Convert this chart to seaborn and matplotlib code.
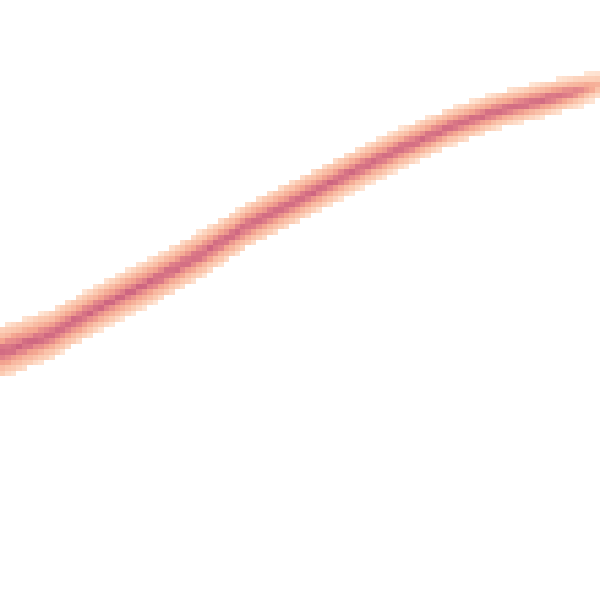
import numpy as np
import pandas as pd
import matplotlib
matplotlib.use("Agg")
import matplotlib.pyplot as plt
import seaborn as sns

# centre of the band (pixel coords, y from top)
curve_x = [0, 50, 100, 150, 200, 250, 300, 350, 400, 450, 500, 550, 575, 600]
curve_y = [353, 335, 307, 282, 255, 224, 199, 173, 149, 127, 110, 98, 92, 85]
# half thickness of the band and relative density along it
curve_half = [24, 22, 21, 21, 21, 20, 20, 19, 18, 17, 16, 15, 14, 11]
curve_density = [1, 1, 1, 1, 1, 1, 1, 1, 1, 1, 1, 1, 0.85, 0.45]

# cross-section of the band (from edge to edge)
band_profile = [1, 1.4, 2.4, 3.8, 5, 3.8, 2.4, 1.4, 1]

n_bins = 110
colors = ["#fee6d6", "#fbc9b0", "#f4a690", "#e2838a", "#cc6480"]

# build weighted samples: one column of samples per histogram column
edges = np.linspace(0, 600, n_bins + 1)
centers = (edges[:-1] + edges[1:]) / 2
prof_pos = np.linspace(-1, 1, len(band_profile))
steps = np.linspace(-1, 1, 81)

xs, ys, ws = [], [], []
for xc in centers:
    yc = np.interp(xc, curve_x, curve_y)
    hw = np.interp(xc, curve_x, curve_half)
    dens = np.interp(xc, curve_x, curve_density) * hw / 20
    for s in steps:
        xs.append(xc)
        ys.append(yc + s * hw)
        ws.append(np.interp(s, prof_pos, band_profile) * dens)

df = pd.DataFrame({"x": xs, "y": ys, "w": ws})

cmap = sns.blend_palette(colors, as_cmap=True)

fig = plt.figure(figsize=(6, 6), dpi=100)
ax = fig.add_axes([0, 0, 1, 1])
sns.histplot(data=df, x="x", y="y", weights="w", bins=n_bins,
             binrange=((0, 600), (0, 600)), cmap=cmap, cbar=False, ax=ax)
ax.set_xlim(0, 600)
ax.set_ylim(600, 0)
ax.axis("off")

plt.savefig("out.png", dpi=100)
